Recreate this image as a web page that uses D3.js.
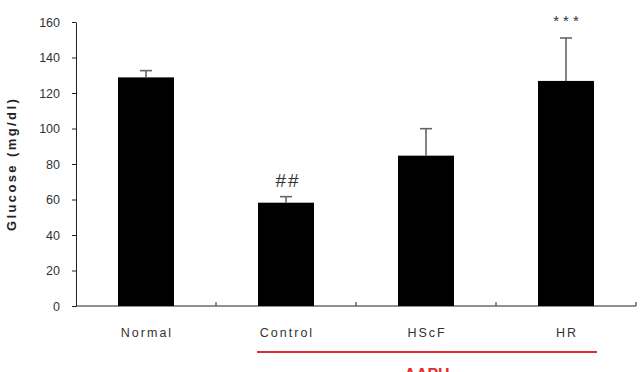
<!DOCTYPE html>
<html><head><meta charset="utf-8">
<script src="https://cdn.jsdelivr.net/npm/d3@7"></script>
<style>body{margin:0;background:#fff}svg{display:block}</style>
</head><body>
<script>
const categories = ["Normal", "Control", "HScF", "HR"];
const means = [128.8, 58.2, 84.7, 126.8];
const errors = [3.8, 3.4, 15.2, 24.2];
const marks = ["", "##", "", "***"];
const yTicks = [0, 20, 40, 60, 80, 100, 120, 140, 160];
const groupLabel = "AAPH";
const groupMembers = ["Control", "HScF", "HR"];

const W = 642, H = 372;
const m = {left: 76, right: 6, top: 22, bottom: 66};
const svg = d3.select("body").append("svg").attr("width", W).attr("height", H);
const x = d3.scaleBand().domain(categories).range([m.left, W - m.right]).paddingInner(0.6).paddingOuter(0.3);
const y = d3.scaleLinear().domain([0, 160]).range([H - m.bottom, m.top]);
const font = "'Liberation Sans', Arial, sans-serif";

// y axis
const ya = svg.append("g").attr("transform", `translate(${m.left},0)`)
  .call(d3.axisLeft(y).tickValues(yTicks).tickSize(4).tickPadding(12).tickSizeOuter(0));
ya.select(".domain").attr("stroke", "#222");
ya.selectAll(".tick line").attr("stroke", "#222");
ya.selectAll("text").attr("font-family", font).attr("font-size", 12.5).attr("fill", "#333");

// x axis with boundary ticks
const x0 = m.left, x1 = W - m.right, yb = y(0);
svg.append("line").attr("x1", x0).attr("x2", x1).attr("y1", yb).attr("y2", yb).attr("stroke", "#222");
const bounds = d3.range(1, categories.length + 1).map(i => x0 + (x1 - x0) * i / categories.length);
svg.selectAll(".bt").data(bounds).enter().append("line")
  .attr("x1", d => d).attr("x2", d => d).attr("y1", yb).attr("y2", yb - 4).attr("stroke", "#222");

// category labels
svg.selectAll(".cl").data(categories).enter().append("text")
  .attr("x", d => x(d) + x.bandwidth() / 2 + 1).attr("y", yb + 31)
  .attr("text-anchor", "middle").attr("font-family", font).attr("font-size", 12.5)
  .attr("letter-spacing", 2).attr("fill", "#333").text(d => d);

// bars
svg.selectAll(".bar").data(categories).enter().append("rect")
  .attr("x", d => x(d)).attr("width", x.bandwidth())
  .attr("y", (d, i) => y(means[i])).attr("height", (d, i) => yb - y(means[i]))
  .attr("fill", "#000");

// error bars
categories.forEach((c, i) => {
  const cx = x(c) + x.bandwidth() / 2;
  svg.append("line").attr("x1", cx).attr("x2", cx).attr("y1", y(means[i])).attr("y2", y(means[i] + errors[i]))
    .attr("stroke", "#666").attr("stroke-width", 1.6);
  svg.append("line").attr("x1", cx - 6).attr("x2", cx + 6).attr("y1", y(means[i] + errors[i])).attr("y2", y(means[i] + errors[i]))
    .attr("stroke", "#666").attr("stroke-width", 1.6);
  if (marks[i]) {
    const isHash = marks[i] === "##";
    svg.append("text").attr("x", cx + 2).attr("y", y(means[i] + errors[i]) - (isHash ? 10 : 12))
      .attr("text-anchor", "middle").attr("font-family", font)
      .attr("font-size", isHash ? 19 : 15).attr("letter-spacing", isHash ? 2 : 4)
      .attr("fill", "#333").text(marks[i]);
  }
});

// y title
svg.append("text").attr("transform", `translate(16,${(y(0) + y(160)) / 2}) rotate(-90)`)
  .attr("text-anchor", "middle").attr("font-family", font).attr("font-size", 13)
  .attr("font-weight", "bold").attr("letter-spacing", 2.4).attr("fill", "#222").text("Glucose (mg/dl)");

// group bracket
const gx0 = x(groupMembers[0]) - 1, gx1 = x(groupMembers[groupMembers.length - 1]) + x.bandwidth() + 3;
svg.append("line").attr("x1", gx0).attr("x2", gx1).attr("y1", 352).attr("y2", 352)
  .attr("stroke", "#e8282a").attr("stroke-width", 2.2);
svg.append("text").attr("x", (gx0 + gx1) / 2).attr("y", 380).attr("text-anchor", "middle")
  .attr("font-family", font).attr("font-size", 16).attr("font-weight", "bold")
  .attr("fill", "#e8282a").text(groupLabel);
</script>
</body></html>
